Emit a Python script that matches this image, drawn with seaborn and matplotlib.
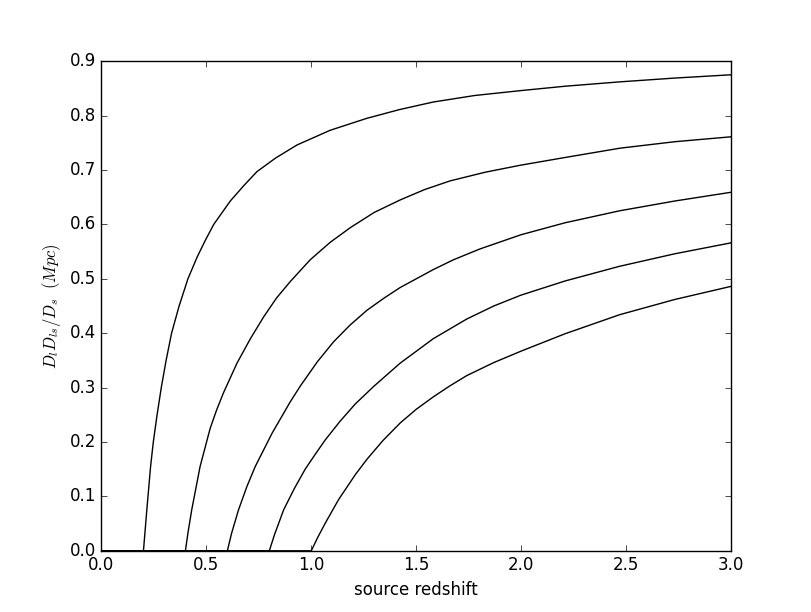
import matplotlib
matplotlib.use('Agg')
import numpy as np
import pandas as pd
import matplotlib.pyplot as plt
import seaborn as sns

# Lens redshifts and curve values
lens_z = [0.2, 0.4, 0.6, 0.8, 1.0]

z_a = [0.0, 0.2, 0.216, 0.234, 0.247, 0.265, 0.285, 0.308, 0.334, 0.37, 0.412, 0.456,
       0.494, 0.535, 0.614, 0.68, 0.741, 0.83, 0.932, 1.09, 1.265, 1.42, 1.582, 1.78,
       2.0, 2.21, 2.47, 2.733, 3.0]
d_a = [0.0, 0.0, 0.075, 0.155, 0.200, 0.250, 0.300, 0.350, 0.400, 0.450, 0.500, 0.540,
       0.570, 0.600, 0.643, 0.672, 0.697, 0.722, 0.746, 0.773, 0.795, 0.811, 0.825, 0.837,
       0.846, 0.854, 0.862, 0.869, 0.875]

z_b = [0.0, 0.4, 0.413, 0.43, 0.47, 0.518, 0.548, 0.581, 0.646, 0.71, 0.773, 0.835,
       0.9, 0.995, 1.09, 1.186, 1.30, 1.424, 1.54, 1.662, 1.83, 2.0, 2.21, 2.47, 2.733, 3.0]
d_b = [0.0, 0.0, 0.035, 0.075, 0.155, 0.225, 0.258, 0.290, 0.345, 0.390, 0.430, 0.465,
       0.495, 0.535, 0.567, 0.594, 0.622, 0.645, 0.664, 0.680, 0.696, 0.709, 0.723, 0.740,
       0.752, 0.761]

z_c = [0.0, 0.6, 0.62, 0.653, 0.693, 0.733, 0.813, 0.9, 0.948, 1.03, 1.106, 1.185,
       1.265, 1.345, 1.424, 1.582, 1.678, 1.805, 2.0, 2.21, 2.47, 2.733, 3.0]
d_c = [0.0, 0.0, 0.032, 0.075, 0.118, 0.155, 0.216, 0.274, 0.303, 0.348, 0.384, 0.415,
       0.442, 0.464, 0.484, 0.517, 0.535, 0.555, 0.581, 0.603, 0.625, 0.643, 0.659]

z_d = [0.0, 0.8, 0.825, 0.868, 0.92, 0.971, 1.02, 1.067, 1.137, 1.21, 1.30, 1.424,
       1.582, 1.741, 1.87, 2.0, 2.21, 2.47, 2.733, 3.0]
d_d = [0.0, 0.0, 0.030, 0.075, 0.115, 0.150, 0.178, 0.204, 0.238, 0.270, 0.303, 0.345,
       0.390, 0.426, 0.450, 0.470, 0.496, 0.523, 0.546, 0.566]

z_e = [0.0, 1.0, 1.03, 1.067, 1.13, 1.21, 1.265, 1.34, 1.424, 1.50, 1.582, 1.66,
       1.741, 1.87, 2.0, 2.21, 2.47, 2.733, 3.0]
d_e = [0.0, 0.0, 0.024, 0.051, 0.094, 0.140, 0.168, 0.202, 0.235, 0.260, 0.283, 0.303,
       0.322, 0.346, 0.367, 0.399, 0.434, 0.462, 0.486]

# Old-style matplotlib look
plt.style.use('classic')
plt.rcParams['mathtext.fontset'] = 'cm'
plt.rcParams['font.family'] = ['DejaVu Sans']

frames = []
for zl, zs, ds in zip(lens_z, [z_a, z_b, z_c, z_d, z_e], [d_a, d_b, d_c, d_d, d_e]):
    frames.append(pd.DataFrame({'zs': zs, 'D': ds, 'lens': str(zl)}))
df = pd.concat(frames, ignore_index=True)

fig = plt.figure(figsize=(8.12, 6.12), dpi=100, facecolor='white')
ax = fig.add_subplot(111)
fig.subplots_adjust(left=0.125, right=0.9, bottom=0.1, top=0.9)

sns.lineplot(data=df, x='zs', y='D', hue='lens', units='lens', estimator=None,
             sort=False, palette=['black'] * 5, linewidth=1.0, legend=False, ax=ax)

ax.set_xlim(0, 3.0)
ax.set_ylim(0, 0.9)
ax.set_xticks(np.arange(0, 3.01, 0.5))
ax.set_yticks(np.arange(0, 0.91, 0.1))
ax.set_xlabel('source redshift', fontsize=12)
ax.set_ylabel(r'$D_l D_{ls}/D_s\ \ (Mpc)$', fontsize=12)
ax.tick_params(labelsize=12)

fig.savefig('out.png', dpi=100, facecolor='white')
